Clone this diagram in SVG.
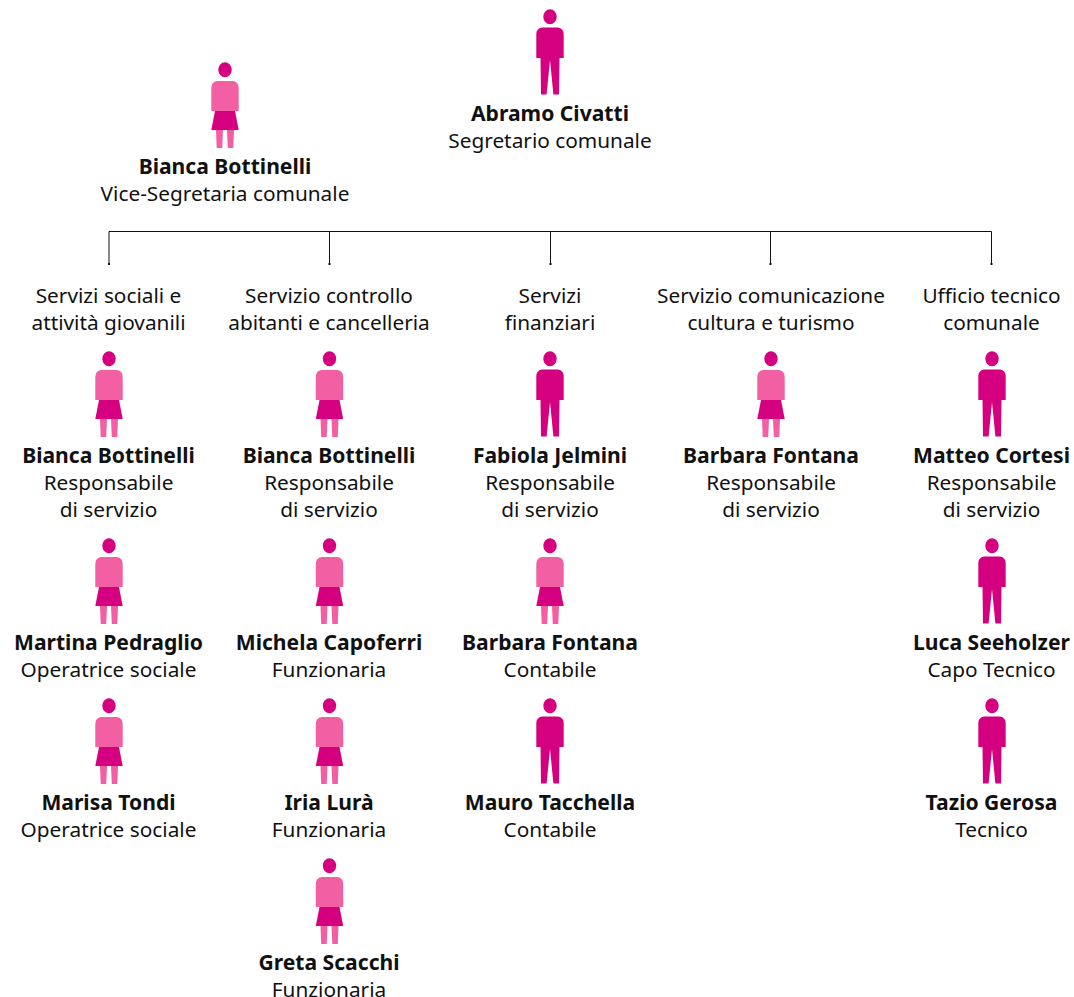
<svg xmlns="http://www.w3.org/2000/svg" xmlns:xlink="http://www.w3.org/1999/xlink" width="1074" height="997" viewBox="0 0 1074 997">
<style>
text{font-family:"Noto Sans","Open Sans",sans-serif;font-size:20.800px;fill:#111;text-anchor:middle}
.n{font-weight:700;font-size:21.100px}
.c{fill:none;stroke:#111;stroke-width:1}
.d{fill:#111}
.m{fill:#d4007f}
.l{fill:#f25fa3}
</style>
<defs>
<g id="man">
<ellipse class="m" cx="0" cy="6.800" rx="6.700" ry="7.500"/>
<path class="m" d="M-8 17.500H8Q13.700 18.500 13.700 24V48H9.500L9 84.500H3.400L0 50-3.400 84.500H-9L-9.500 48H-13.700V24Q-13.700 18.500-8 17.500Z"/>
</g>
<g id="woman">
<ellipse class="m" cx="0" cy="6.800" rx="6.700" ry="7.500"/>
<path class="l" d="M-8 18H8Q13.700 19 13.700 25V48H-13.700V25Q-13.700 19-8 18Z"/>
<path class="m" d="M-10 48H10L13.700 67H-13.700Z"/>
<path class="l" d="M-9 67H-2L-2.800 85H-8.300ZM2 67H9L8.300 85H2.800Z"/>
</g>
</defs>
<g id="connectors">
<path class="c" d="M109 264V231.500H991.500V264M329.500 231.500V264M550.500 231.500V264M770.500 231.500V264"/>
<g class="d"><rect x="108" y="263" width="2" height="2"/><rect x="328.500" y="263" width="2" height="2"/><rect x="549.500" y="263" width="2" height="2"/><rect x="769.500" y="263" width="2" height="2"/><rect x="990.500" y="263" width="2" height="2"/></g>
</g>
<g id="abramo"><use xlink:href="#man" href="#man" x="550" y="10"/><text class="n" x="550" y="120.500">Abramo Civatti</text><text x="550" y="147.500">Segretario comunale</text></g>
<g id="bianca-vice"><use xlink:href="#woman" href="#woman" x="225" y="63"/><text class="n" x="225" y="173.500">Bianca Bottinelli</text><text x="225" y="200.500">Vice-Segretaria comunale</text></g>
<g id="dept-1"><text x="108.500" y="302.500">Servizi sociali e</text><text x="108.500" y="329.500">attività giovanili</text></g>
<g id="dept-2"><text x="329" y="302.500">Servizio controllo</text><text x="329" y="329.500">abitanti e cancelleria</text></g>
<g id="dept-3"><text x="550" y="302.500">Servizi</text><text x="550" y="329.500">finanziari</text></g>
<g id="dept-4"><text x="771" y="302.500">Servizio comunicazione</text><text x="771" y="329.500">cultura e turismo</text></g>
<g id="dept-5"><text x="991.500" y="302.500">Ufficio tecnico</text><text x="991.500" y="329.500">comunale</text></g>
<g id="p1-1"><use xlink:href="#woman" href="#woman" x="109" y="352"/><text class="n" x="108.500" y="462.500">Bianca Bottinelli</text><text x="108.500" y="489.500">Responsabile</text><text x="108.500" y="516.500">di servizio</text></g>
<g id="p1-2"><use xlink:href="#woman" href="#woman" x="109" y="539"/><text class="n" x="108.500" y="649.500">Martina Pedraglio</text><text x="108.500" y="676.500">Operatrice sociale</text></g>
<g id="p1-3"><use xlink:href="#woman" href="#woman" x="109" y="699"/><text class="n" x="108.500" y="809.500">Marisa Tondi</text><text x="108.500" y="836.500">Operatrice sociale</text></g>
<g id="p2-1"><use xlink:href="#woman" href="#woman" x="329.500" y="352"/><text class="n" x="329" y="462.500">Bianca Bottinelli</text><text x="329" y="489.500">Responsabile</text><text x="329" y="516.500">di servizio</text></g>
<g id="p2-2"><use xlink:href="#woman" href="#woman" x="329.500" y="539"/><text class="n" x="329" y="649.500">Michela Capoferri</text><text x="329" y="676.500">Funzionaria</text></g>
<g id="p2-3"><use xlink:href="#woman" href="#woman" x="329.500" y="699"/><text class="n" x="329" y="809.500">Iria Lurà</text><text x="329" y="836.500">Funzionaria</text></g>
<g id="p2-4"><use xlink:href="#woman" href="#woman" x="329.500" y="859"/><text class="n" x="329" y="969.500">Greta Scacchi</text><text x="329" y="996.500">Funzionaria</text></g>
<g id="p3-1"><use xlink:href="#man" href="#man" x="550" y="352"/><text class="n" x="550" y="462.500">Fabiola Jelmini</text><text x="550" y="489.500">Responsabile</text><text x="550" y="516.500">di servizio</text></g>
<g id="p3-2"><use xlink:href="#woman" href="#woman" x="550" y="539"/><text class="n" x="550" y="649.500">Barbara Fontana</text><text x="550" y="676.500">Contabile</text></g>
<g id="p3-3"><use xlink:href="#man" href="#man" x="550" y="699"/><text class="n" x="550" y="809.500">Mauro Tacchella</text><text x="550" y="836.500">Contabile</text></g>
<g id="p4-1"><use xlink:href="#woman" href="#woman" x="771" y="352"/><text class="n" x="771" y="462.500">Barbara Fontana</text><text x="771" y="489.500">Responsabile</text><text x="771" y="516.500">di servizio</text></g>
<g id="p5-1"><use xlink:href="#man" href="#man" x="992" y="352"/><text class="n" x="991.500" y="462.500">Matteo Cortesi</text><text x="991.500" y="489.500">Responsabile</text><text x="991.500" y="516.500">di servizio</text></g>
<g id="p5-2"><use xlink:href="#man" href="#man" x="992" y="539"/><text class="n" x="991.500" y="649.500">Luca Seeholzer</text><text x="991.500" y="676.500">Capo Tecnico</text></g>
<g id="p5-3"><use xlink:href="#man" href="#man" x="992" y="699"/><text class="n" x="991.500" y="809.500">Tazio Gerosa</text><text x="991.500" y="836.500">Tecnico</text></g>
</svg>
